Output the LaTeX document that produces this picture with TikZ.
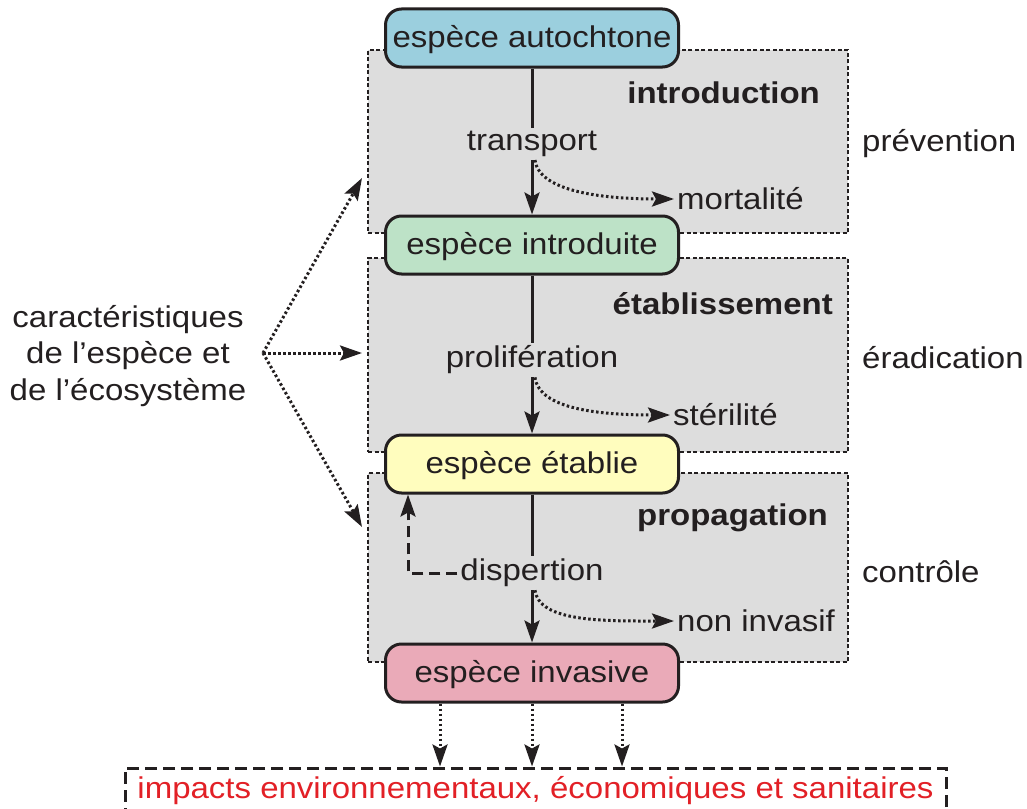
\documentclass[tikz,border=0pt]{standalone}
\usepackage{fontspec}
\setmainfont{Liberation Sans}[FakeStretch=1.1]
\usetikzlibrary{arrows.meta}
\definecolor{cblue}{RGB}{155,207,222}
\definecolor{cgreen}{RGB}{189,226,199}
\definecolor{cyellow}{RGB}{255,253,190}
\definecolor{cpink}{RGB}{234,170,184}
\definecolor{cgrey}{RGB}{221,221,221}
\definecolor{cred}{RGB}{226,32,38}
\definecolor{cink}{RGB}{35,31,32}
\newcommand\myfs{\fontsize{30}{36.5}\selectfont}
\tikzset{
  species/.style={draw=cink, line width=3pt, rounded corners=16pt, minimum width=293pt, minimum height=58pt, inner sep=0pt, text height=22pt, text depth=3pt, font=\myfs, text=cink},
  stage/.style={draw=cink, fill=cgrey, line width=1.8pt, dash pattern=on 4pt off 2.5pt, inner sep=0pt},
  lbl/.style={inner sep=3pt, font=\myfs, text=cink},
  ttl/.style={inner sep=0pt, font=\myfs\bfseries, text=cink, anchor=east},
  tip/.style={-{Stealth[length=22pt,width=15pt,inset=4pt]}},
  flow/.style={line width=3pt, draw=cink},
  arr/.style={flow, tip},
  dots/.style={line width=3pt, draw=cink, dash pattern=on 2.5pt off 2.5pt, tip},
  fback/.style={line width=3pt, draw=cink, dash pattern=on 11pt off 6pt, tip},
}
\begin{document}
\begin{tikzpicture}[x=1pt,y=-1pt]
\useasboundingbox (0,0) rectangle (1027,808);
% stage boxes
\node[stage, minimum width=480pt, minimum height=183pt] (g1) at (608,141.5) {};
\node[stage, minimum width=480pt, minimum height=194pt] (g2) at (608,355) {};
\node[stage, minimum width=480pt, minimum height=189pt] (g3) at (608,567.5) {};
\node[ttl] (t1) at (820,93) {introduction};
\node[ttl] (t2) at (833,304) {établissement};
\node[ttl] (t3) at (828,518) {propagation};
% species
\node[species, fill=cblue] (auto) at (532,38) {espèce autochtone};
\node[species, fill=cgreen] (intr) at (532,245) {espèce introduite};
\node[species, fill=cyellow] (etab) at (532,464) {espèce établie};
\node[species, fill=cpink] (inv) at (532,673) {espèce invasive};
% process labels
\node[lbl] (trans) at (532,144) {transport};
\node[lbl] (prol) at (532,360) {prolifération};
\node[lbl] (disp) at (532,573) {dispertion};
\node[lbl, anchor=west] (mort) at (674,199) {mortalité};
\node[lbl, anchor=west] (ster) at (670,415) {stérilité};
\node[lbl, anchor=west] (noninv) at (674,621) {non invasif};
% right labels
\node[lbl, anchor=west, inner sep=0pt] (prev) at (862,144) {prévention};
\node[lbl, anchor=west, inner sep=0pt] (erad) at (862,358) {éradication};
\node[lbl, anchor=west, inner sep=0pt] (ctrl) at (862,572) {contrôle};
% left
\node[lbl, align=center] (car) at (128,356) {caractéristiques\\de l’espèce et\\de l’écosystème};
\coordinate (src) at (263,353);
\coordinate (a1) at (362,178);
\coordinate (a2) at (362,353);
\coordinate (a3) at (362,527);
\draw[dots] (src) -- (a1);
\draw[dots] (src) -- (a2);
\draw[dots] (src) -- (a3);
% impacts
\node[draw=cink, line width=3pt, dash pattern=on 12pt off 6pt, minimum width=821pt, minimum height=46pt, inner sep=0pt, font=\myfs, text=cred] (imp) at (535.5,791) {impacts environnementaux, économiques et sanitaires};
% main flow
\draw[flow] (auto.south) -- (trans.north);
\draw[arr] (trans.south) -- (intr.north);
\draw[flow] (intr.south) -- (prol.north);
\draw[arr] (prol.south) -- (etab.north);
\draw[flow] (etab.south) -- (disp.north);
\draw[arr] (disp.south) -- (inv.north);
% losses
\draw[dots] ([xshift=3pt]trans.south) .. controls +(4,32) and +(-70,0) .. (mort.west);
\draw[dots] ([xshift=3pt]prol.south) .. controls +(4,32) and +(-70,0) .. (ster.west);
\draw[dots] ([xshift=3pt]disp.south) .. controls +(4,32) and +(-70,0) .. (noninv.west);
% feedback
\path ([xshift=-124pt]etab.south) coordinate (fbt);
\draw[fback] (disp.west) -| (fbt);
% impacts arrows
\path ([xshift=-92pt]inv.south) coordinate (b1);
\path (inv.south) coordinate (b2);
\path ([xshift=90pt]inv.south) coordinate (b3);
\draw[dots] (b1) -- (b1 |- imp.north);
\draw[dots] (b2) -- (b2 |- imp.north);
\draw[dots] (b3) -- (b3 |- imp.north);
\end{tikzpicture}
\end{document}
